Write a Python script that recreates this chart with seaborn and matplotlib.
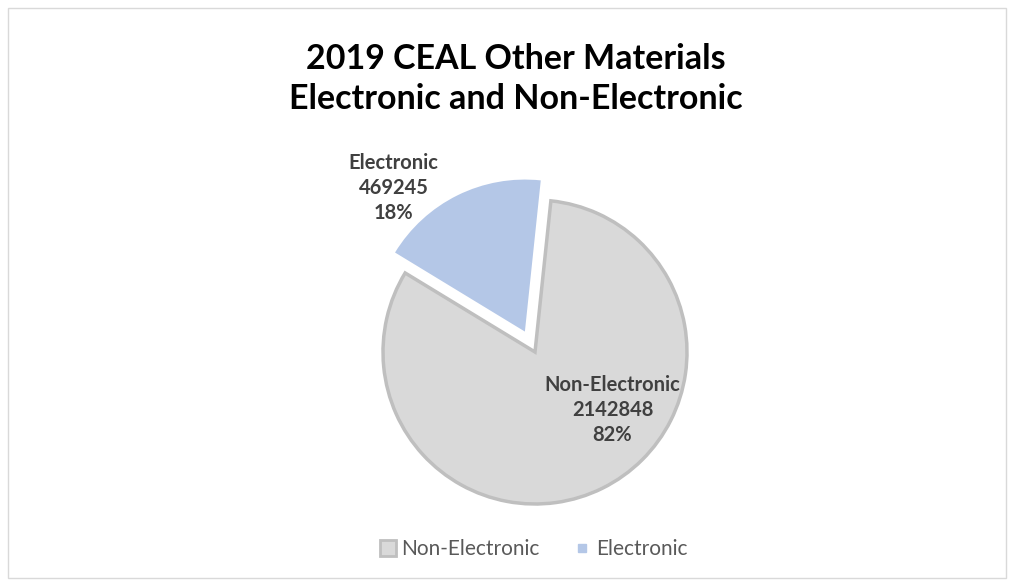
import matplotlib
matplotlib.use("Agg")
import matplotlib.pyplot as plt
import seaborn as sns
from matplotlib.lines import Line2D
from matplotlib.patches import Rectangle

categories = ["Non-Electronic", "Electronic"]
values = [2142848, 469245]
percents = ["82%", "18%"]
colors = ["#d9d9d9", "#b4c7e7"]
edgecolors = ["#bfbfbf", "none"]
title = "2019 CEAL Other Materials\nElectronic and Non-Electronic"

sns.set_theme(style="white")
plt.rcParams["font.family"] = ["Lato", "DejaVu Sans"]

W, H = 1014, 584
fig = plt.figure(figsize=(W / 100, H / 100), dpi=100)
fig.patch.set_facecolor("white")

# figure border
fig.patches.append(Rectangle((8 / W, 6 / H), 998 / W, 570 / H, transform=fig.transFigure,
                             fill=False, edgecolor="#d9d9d9", linewidth=1))

cx, cy, r = 535, 352, 152
half = 210
ax = fig.add_axes([(cx - half) / W, (H - cy - half) / H, 2 * half / W, 2 * half / H])

wedges, _ = ax.pie(values, colors=colors, startangle=84, counterclock=False,
                   explode=[0, 0.15], radius=1.0)
for w, ec in zip(wedges, edgecolors):
    if ec != "none":
        w.set_edgecolor(ec)
        w.set_linewidth(2.5)
    else:
        w.set_edgecolor("none")

lim = half / r
ax.set_xlim(-lim, lim)
ax.set_ylim(-lim, lim)
ax.set_aspect("equal")
ax.axis("off")

label_pos = {"Non-Electronic": (0.51, -0.38), "Electronic": (-0.93, 1.08)}
for cat, v, p in zip(categories, values, percents):
    x, y = label_pos[cat]
    ax.text(x, y, f"{cat}\n{v}\n{p}", ha="center", va="center", fontsize=14.5,
            fontweight="bold", color="#404040", linespacing=1.3)

fig.text(516 / W, 1 - 79 / H, title, ha="center", va="center", fontsize=24.5, fontweight="bold",
         color="#000000", linespacing=1.27)

handles = [
    Line2D([0], [0], marker="s", linestyle="none", markersize=11,
           markerfacecolor=colors[0], markeredgecolor=edgecolors[0], markeredgewidth=2),
    Line2D([0], [0], marker="s", linestyle="none", markersize=6,
           markerfacecolor=colors[1], markeredgecolor=colors[1]),
]
fig.legend(handles, categories, loc="center", bbox_to_anchor=(533 / W, (H - 549) / H),
           ncol=2, frameon=False, fontsize=15, labelcolor="#595959",
           handletextpad=0.2, columnspacing=1.6, handlelength=0.9)

fig.savefig("out.png", dpi=100, facecolor="white")
